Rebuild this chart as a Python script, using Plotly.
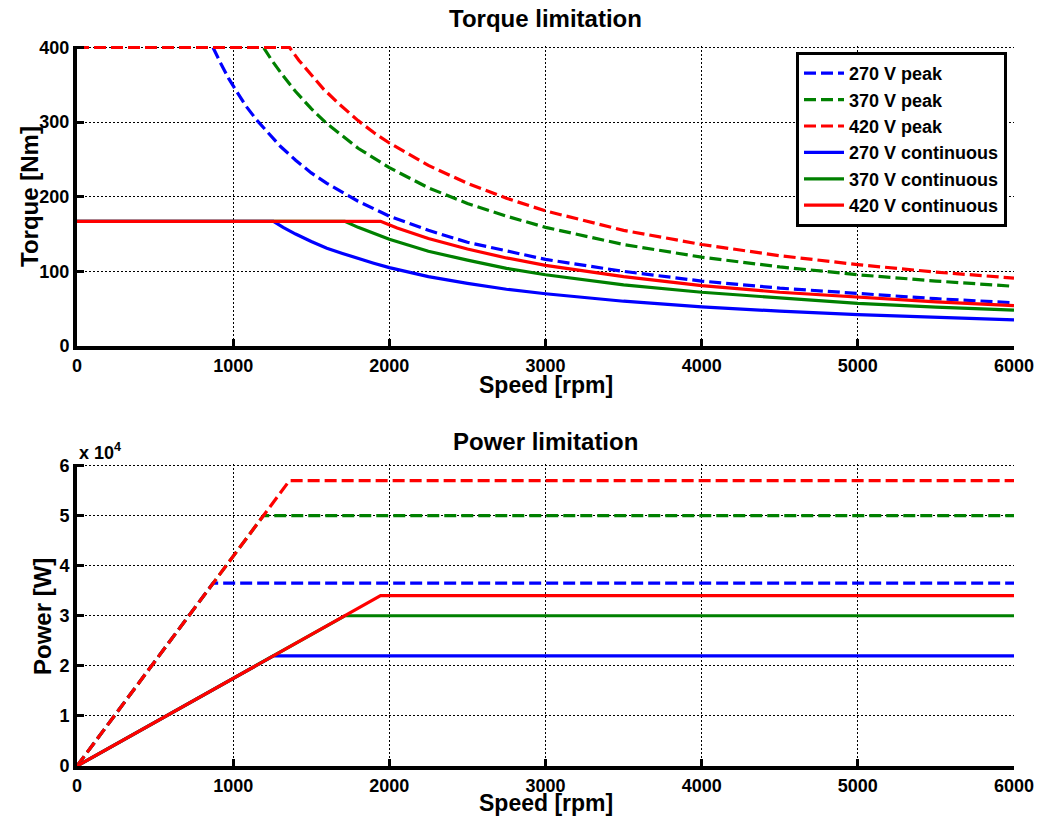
import plotly.graph_objects as go

# ---------------- data ----------------
series_names = ["270 V peak", "370 V peak", "420 V peak",
                "270 V continuous", "370 V continuous", "420 V continuous"]

# Torque curves [Nm] vs speed [rpm]
spd_270_peak = [0, 871, 920, 970, 1020, 1080, 1150, 1220, 1300, 1400, 1500, 1600, 1800, 2000,
                2250, 2500, 2750, 3000, 3500, 4000, 4500, 5000, 5500, 6000]
trq_270_peak = [400, 400, 379, 359, 342, 322, 303, 286, 268, 249, 232, 218, 194, 174,
                155, 139, 127, 116, 100, 87, 77.5, 70, 63.4, 58]

spd_370_peak = [0, 1194, 1250, 1320, 1400, 1500, 1600, 1700, 1800, 2000, 2250, 2500, 2750, 3000,
                3500, 4000, 4500, 5000, 5500, 6000]
trq_370_peak = [400, 400, 382, 362, 341, 318, 298, 281, 265, 239, 212, 191, 174, 159,
                136, 119, 106, 95.5, 87, 80]

spd_420_peak = [0, 1361, 1420, 1500, 1580, 1680, 1800, 1900, 2000, 2250, 2500, 2750, 3000,
                3500, 4000, 4500, 5000, 5500, 6000]
trq_420_peak = [400, 400, 383, 363, 344, 324, 302, 286, 272, 242, 218, 198, 181,
                155, 136, 121, 109, 99, 91]

spd_270_cont = [0, 1258, 1320, 1400, 1500, 1600, 1700, 1800, 1900, 2000, 2250, 2500, 2750, 3000,
                3500, 4000, 4500, 5000, 5500, 6000]
trq_270_cont = [167, 167, 159, 150, 140, 131, 124, 117, 111, 105, 93, 84, 76, 70,
                60, 52.5, 46.7, 42, 38, 35]

spd_370_cont = [0, 1715, 1800, 1900, 2000, 2125, 2250, 2500, 2750, 3000,
                3500, 4000, 4500, 5000, 5500, 6000]
trq_370_cont = [167, 167, 159, 151, 143, 135, 127, 115, 104, 95.5,
                82, 72, 64, 57, 52, 48]

spd_420_cont = [0, 1944, 2050, 2150, 2250, 2375, 2500, 2750, 3000,
                3500, 4000, 4500, 5000, 5500, 6000]
trq_420_cont = [167, 167, 158, 151, 144, 137, 130, 118, 108,
                93, 81, 72, 65, 59, 54]

# Power curves [W] vs speed [rpm]
pspd_270_peak = [0, 871, 6000];  pwr_270_peak = [0, 36500, 36500]
pspd_370_peak = [0, 1194, 6000]; pwr_370_peak = [0, 50000, 50000]
pspd_420_peak = [0, 1361, 6000]; pwr_420_peak = [0, 57000, 57000]
pspd_270_cont = [0, 1258, 6000]; pwr_270_cont = [0, 22000, 22000]
pspd_370_cont = [0, 1715, 6000]; pwr_370_cont = [0, 30000, 30000]
pspd_420_cont = [0, 1944, 6000]; pwr_420_cont = [0, 34000, 34000]

x_ticks = [0, 1000, 2000, 3000, 4000, 5000, 6000]
torque_ticks = [0, 100, 200, 300, 400]
power_ticks = [0, 10000, 20000, 30000, 40000, 50000, 60000]
power_tick_labels = ["0", "1", "2", "3", "4", "5", "6"]

# ---------------- style ----------------
colors = ["#0000FF", "#008000", "#FF0000", "#0000FF", "#008000", "#FF0000"]
dashes = ["12px,5px"] * 3 + ["solid"] * 3
FONT = "Arial, Liberation Sans, Helvetica, sans-serif"

torque_data = [(spd_270_peak, trq_270_peak), (spd_370_peak, trq_370_peak),
               (spd_420_peak, trq_420_peak), (spd_270_cont, trq_270_cont),
               (spd_370_cont, trq_370_cont), (spd_420_cont, trq_420_cont)]
power_data = [(pspd_270_peak, pwr_270_peak), (pspd_370_peak, pwr_370_peak),
              (pspd_420_peak, pwr_420_peak), (pspd_270_cont, pwr_270_cont),
              (pspd_370_cont, pwr_370_cont), (pspd_420_cont, pwr_420_cont)]

fig = go.Figure()
for i, (xs, ys) in enumerate(torque_data):
    fig.add_trace(go.Scatter(x=xs, y=ys, mode="lines", name=series_names[i],
                             line=dict(color=colors[i], width=3.2, dash=dashes[i]),
                             xaxis="x", yaxis="y", showlegend=True))
for i, (xs, ys) in enumerate(power_data):
    fig.add_trace(go.Scatter(x=xs, y=ys, mode="lines", name=series_names[i],
                             line=dict(color=colors[i], width=3.2, dash=dashes[i]),
                             xaxis="x2", yaxis="y2", showlegend=False))

W, H = 1037, 816
xdom = [77 / W, 1014 / W]
top_dom = [1 - 346 / H, 1 - 46 / H]
bot_dom = [1 - 766 / H, 1 - 464 / H]

tickfont = dict(family=FONT, size=18, color="black", weight="bold")
common = dict(showline=True, linecolor="black", linewidth=4, mirror=False,
              ticks="inside", ticklen=7, tickwidth=3, tickcolor="black",
              showgrid=True, gridcolor="black", gridwidth=1.3, griddash="1.5px,2.5px",
              zeroline=False, tickfont=tickfont, automargin=False)

fig.update_layout(
    width=W, height=H,
    margin=dict(l=0, r=0, t=0, b=0, autoexpand=False),
    paper_bgcolor="white", plot_bgcolor="white",
    xaxis=dict(domain=xdom, anchor="y", range=[0, 6000], tickvals=x_ticks, **common),
    yaxis=dict(domain=top_dom, anchor="x", range=[0, 402], tickvals=torque_ticks, **common),
    xaxis2=dict(domain=xdom, anchor="y2", range=[0, 6000], tickvals=x_ticks, **common),
    yaxis2=dict(domain=bot_dom, anchor="x2", range=[0, 60300], tickvals=power_ticks,
                ticktext=power_tick_labels, **common),
    legend=dict(x=1007 / W, y=1 - 52 / H, xanchor="right", yanchor="top",
                bgcolor="white", bordercolor="black", borderwidth=3,
                font=dict(family=FONT, size=18, color="black", weight="bold"),
                itemwidth=40, tracegroupgap=0),
    showlegend=True,
)

def ann(text, x, y, size, angle=0, xanchor="center"):
    fig.add_annotation(text=text, x=x, y=y, xref="paper", yref="paper",
                       xanchor=xanchor, yanchor="middle", showarrow=False, textangle=angle,
                       font=dict(family=FONT, size=size, color="black", weight="bold"))

cx = (77 + 1014) / 2 / W
ann("Torque limitation", cx, 1 - 18 / H, 24)
ann("Speed [rpm]", cx, 1 - 385 / H, 23)
ann("Torque [Nm]", 29 / W, 1 - 197 / H, 24, angle=-90)
ann("Power limitation", cx, 1 - 441 / H, 24)
ann("Speed [rpm]", cx, 1 - 803 / H, 23)
ann("Power [W]", 42 / W, 1 - 617 / H, 24, angle=-90)
ann("x 10<sup>4</sup>", 77 / W, 1 - 451 / H, 18, xanchor="left")

fig.write_html(
    "out.html",
    config={"displayModeBar": False},
    post_script="document.body.style.margin='0';document.documentElement.style.overflow='hidden';",
)
